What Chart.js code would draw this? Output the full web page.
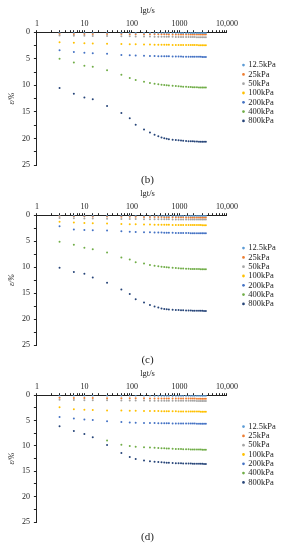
<!DOCTYPE html>
<html>
<head>
<meta charset="utf-8">
<script src="https://cdn.jsdelivr.net/npm/chart.js@4/dist/chart.umd.min.js"></script>
<style>
  body { margin: 0; background: #fff; }
  canvas { display: block; }
</style>
</head>
<body>
<canvas id="chartB" width="295" height="186"></canvas>
<canvas id="chartC" width="295" height="180"></canvas>
<canvas id="chartD" width="295" height="184"></canvas>
<script>
// time of each reading, s
const times = [3, 6, 10, 15, 30, 60, 90, 120,
  180, 240, 300, 360, 420, 480, 540, 600,
  720, 840, 960, 1080, 1200, 1380, 1560, 1740,
  1920, 2100, 2340, 2580, 2820, 3060, 3300, 3600];

const pressures = ['12.5kPa', '25kPa', '50kPa', '100kPa', '200kPa', '400kPa', '800kPa'];
const colors = ['#5B9BD5', '#ED7D31', '#A5A5A5', '#FFC000', '#4472C4', '#70AD47', '#264478'];

// strain ε/% , panel (b)
const b12_5 = [0.05,0.06,0.07,0.07,0.08,0.09,0.09,0.10, 0.10,0.10,0.11,0.11,0.11,0.11,0.12,0.12, 0.12,0.12,0.12,0.13,0.13,0.13,0.13,0.13, 0.14,0.14,0.14,0.14,0.14,0.14,0.15,0.15];
const b25 = [0.30,0.32,0.33,0.34,0.35,0.36,0.37,0.37, 0.38,0.38,0.39,0.39,0.40,0.40,0.40,0.41, 0.41,0.41,0.42,0.42,0.42,0.43,0.43,0.43, 0.44,0.44,0.44,0.44,0.45,0.45,0.45,0.45];
const b50 = [0.60,0.65,0.68,0.70,0.73,0.76,0.78,0.80, 0.82,0.83,0.84,0.85,0.86,0.86,0.87,0.87, 0.88,0.89,0.89,0.90,0.90,0.91,0.91,0.92, 0.92,0.92,0.93,0.93,0.94,0.94,0.94,0.95];
const b100 = [1.87,2.00,2.08,2.12,2.18,2.24,2.27,2.29, 2.31,2.33,2.34,2.35,2.36,2.37,2.37,2.38, 2.39,2.39,2.40,2.40,2.41,2.41,2.42,2.42, 2.43,2.43,2.43,2.44,2.44,2.44,2.45,2.45];
const b200 = [3.40,3.73,3.86,3.98,4.05,4.30,4.36,4.40, 4.44,4.47,4.49,4.51,4.52,4.53,4.54,4.55, 4.56,4.57,4.58,4.59,4.60,4.60,4.61,4.62, 4.62,4.63,4.63,4.64,4.64,4.65,4.65,4.66];
const b400 = [5.00,5.70,6.30,6.50,7.15,8.00,8.60,9.00, 9.35,9.55,9.70,9.80,9.88,9.95,10.00,10.04, 10.10,10.15,10.19,10.22,10.25,10.28,10.31,10.33, 10.35,10.36,10.38,10.39,10.40,10.41,10.42,10.43];
const b800 = [10.5,11.6,12.3,12.6,13.9,15.2,16.2,17.4, 18.3,18.9,19.3,19.6,19.8,19.95,20.05,20.13, 20.23,20.30,20.36,20.40,20.44,20.48,20.51,20.53, 20.55,20.57,20.58,20.60,20.61,20.62,20.63,20.64];

// panel (c)
const c12_5 = [0.03,0.04,0.05,0.05,0.06,0.07,0.07,0.07, 0.08,0.08,0.08,0.08,0.09,0.09,0.09,0.09, 0.09,0.09,0.10,0.10,0.10,0.10,0.10,0.10, 0.10,0.11,0.11,0.11,0.11,0.11,0.11,0.11];
const c25 = [0.13,0.18,0.21,0.23,0.26,0.29,0.31,0.32, 0.34,0.35,0.36,0.37,0.37,0.38,0.38,0.39, 0.39,0.40,0.40,0.41,0.41,0.42,0.42,0.42, 0.43,0.43,0.43,0.44,0.44,0.44,0.45,0.45];
const c50 = [0.55,0.60,0.63,0.65,0.68,0.71,0.73,0.74, 0.76,0.77,0.78,0.78,0.79,0.79,0.80,0.80, 0.81,0.81,0.82,0.82,0.82,0.83,0.83,0.83, 0.84,0.84,0.84,0.84,0.85,0.85,0.85,0.85];
const c100 = [1.28,1.42,1.50,1.55,1.62,1.70,1.74,1.76, 1.79,1.81,1.82,1.83,1.84,1.85,1.85,1.86, 1.87,1.87,1.88,1.88,1.89,1.89,1.89,1.90, 1.90,1.90,1.91,1.91,1.91,1.92,1.92,1.92];
const c200 = [2.15,2.75,2.87,2.92,2.97,3.10,3.18,3.22, 3.26,3.29,3.31,3.33,3.35,3.36,3.37,3.38, 3.40,3.41,3.42,3.43,3.44,3.45,3.45,3.46, 3.47,3.47,3.48,3.48,3.49,3.49,3.50,3.50];
const c400 = [5.10,5.70,6.25,6.55,7.20,8.15,8.55,9.05, 9.30,9.60,9.75,9.85,9.92,9.98,10.03,10.07, 10.13,10.18,10.22,10.25,10.28,10.30,10.32,10.34, 10.35,10.36,10.37,10.38,10.39,10.40,10.40,10.41];
const c800 = [10.1,10.95,11.3,12.0,13.0,14.3,15.2,16.2, 16.8,17.3,17.6,17.8,17.95,18.05,18.10,18.15, 18.20,18.24,18.27,18.30,18.32,18.34,18.36,18.37, 18.38,18.39,18.40,18.41,18.42,18.42,18.43,18.43];

// panel (d)
const d12_5 = [0.04,0.05,0.05,0.06,0.06,0.07,0.07,0.08, 0.08,0.08,0.09,0.09,0.09,0.09,0.10,0.10, 0.10,0.10,0.10,0.11,0.11,0.11,0.11,0.11, 0.11,0.12,0.12,0.12,0.12,0.12,0.12,0.12];
const d25 = [0.50,0.54,0.56,0.57,0.59,0.60,0.61,0.62, 0.62,0.63,0.63,0.64,0.64,0.64,0.65,0.65, 0.65,0.66,0.66,0.66,0.66,0.67,0.67,0.67, 0.67,0.67,0.68,0.68,0.68,0.68,0.68,0.68];
const d50 = [0.92,0.96,0.99,1.00,1.02,1.04,1.05,1.06, 1.06,1.07,1.07,1.08,1.08,1.08,1.09,1.09, 1.09,1.10,1.10,1.10,1.10,1.11,1.11,1.11, 1.11,1.11,1.12,1.12,1.12,1.12,1.12,1.12];
const d100 = [2.40,2.75,2.88,2.92,3.00,3.03,3.06,3.08, 3.10,3.11,3.12,3.13,3.14,3.15,3.16,3.16, 3.17,3.18,3.19,3.19,3.20,3.20,3.21,3.21, 3.22,3.22,3.23,3.23,3.24,3.24,3.25,3.25];
const d200 = [4.30,4.60,4.80,4.90,5.15,5.30,5.40,5.44, 5.47,5.49,5.50,5.51,5.52,5.53,5.54,5.55, 5.56,5.57,5.57,5.58,5.58,5.59,5.59,5.60, 5.60,5.60,5.61,5.61,5.61,5.62,5.62,5.62];
const d400 = [null,null,null,null,8.95,9.75,10.00,10.15, 10.25,10.32,10.37,10.41,10.45,10.48,10.50,10.52, 10.56,10.59,10.61,10.63,10.65,10.67,10.68,10.69, 10.70,10.71,10.72,10.73,10.73,10.74,10.74,10.75];
const d800 = [6.10,7.05,7.65,8.30,9.80,11.40,12.20,12.60, 12.85,13.00,13.10,13.17,13.22,13.26,13.30,13.33, 13.37,13.40,13.42,13.44,13.46,13.47,13.48,13.49, 13.50,13.51,13.52,13.53,13.53,13.54,13.55,13.55];

Chart.defaults.font.family = '"Liberation Serif", "Times New Roman", serif';
Chart.defaults.color = '#222';

function xLabel(value) {
  const l = Math.log10(value);
  if (Math.abs(l - Math.round(l)) > 1e-6) return '';
  return value === 10000 ? '10,000' : String(value);
}

function panel(id, caption, series, titleTop, bottomPad) {
  const datasets = series.map((vals, i) => ({
    label: pressures[i],
    data: times.map((t, j) => ({ x: t, y: vals[j] })),
    backgroundColor: colors[i],
    borderColor: colors[i],
    borderWidth: 0,
    pointRadius: 1,
    pointStyle: 'circle'
  }));
  return new Chart(document.getElementById(id), {
    type: 'scatter',
    data: { datasets: datasets },
    options: {
      responsive: false,
      animation: false,
      devicePixelRatio: 1,
      events: [],
      layout: { padding: { left: 0, right: 0, top: 0, bottom: bottomPad } },
      plugins: {
        title: {
          display: true, text: 'lgt/s', position: 'top', color: '#222',
          font: { size: 8.5, weight: 'normal', lineHeight: 1.2 },
          padding: { top: titleTop, bottom: 2.1 }
        },
        subtitle: {
          display: true, text: caption, position: 'bottom', color: '#222',
          font: { size: 11, lineHeight: 1 },
          padding: { top: 9.5, bottom: 0.5 }
        },
        legend: {
          position: 'right', align: 'center',
          labels: {
            usePointStyle: true, pointStyle: 'circle',
            boxWidth: 1, boxHeight: 2, padding: 0.8,
            color: '#222', font: { size: 8.5 }
          }
        },
        tooltip: { enabled: false }
      },
      scales: {
        x: {
          type: 'logarithmic', position: 'top', min: 1, max: 10000,
          grid: { drawOnChartArea: false, tickLength: 2, color: '#222' },
          border: { color: '#222' },
          ticks: { autoSkip: false, maxRotation: 0, padding: 1.2, font: { size: 8 }, callback: xLabel }
        },
        y: {
          type: 'linear', position: 'left', reverse: true, min: 0, max: 25,
          grid: { drawOnChartArea: false, tickLength: 3, color: '#222' },
          border: { color: '#222' },
          ticks: { stepSize: 2.5, padding: 4, font: { size: 8 },
            callback: v => (v % 5 === 0 ? v : '') },
          title: { display: true, text: 'ε/%', font: { size: 8, style: 'italic' },
            padding: { top: 7.2, bottom: 5.2 } }
        },
        gap: {
          type: 'linear', axis: 'y', position: 'right', weight: 0,
          grid: { display: false }, border: { display: false }, ticks: { display: false },
          afterFit: s => { s.width = 15.2; }
        },
        edge: {
          type: 'linear', axis: 'y', position: 'right', weight: 2000,
          grid: { display: false }, border: { display: false }, ticks: { display: false },
          afterFit: s => { s.width = 16; }
        }
      }
    }
  });
}

panel('chartB', '(b)', [b12_5, b25, b50, b100, b200, b400, b800], 5.9, 0);
panel('chartC', '(c)', [c12_5, c25, c50, c100, c200, c400, c800], 2.9, 0);
panel('chartD', '(d)', [d12_5, d25, d50, d100, d200, d400, d800], 2.9, 7);
</script>
</body>
</html>
